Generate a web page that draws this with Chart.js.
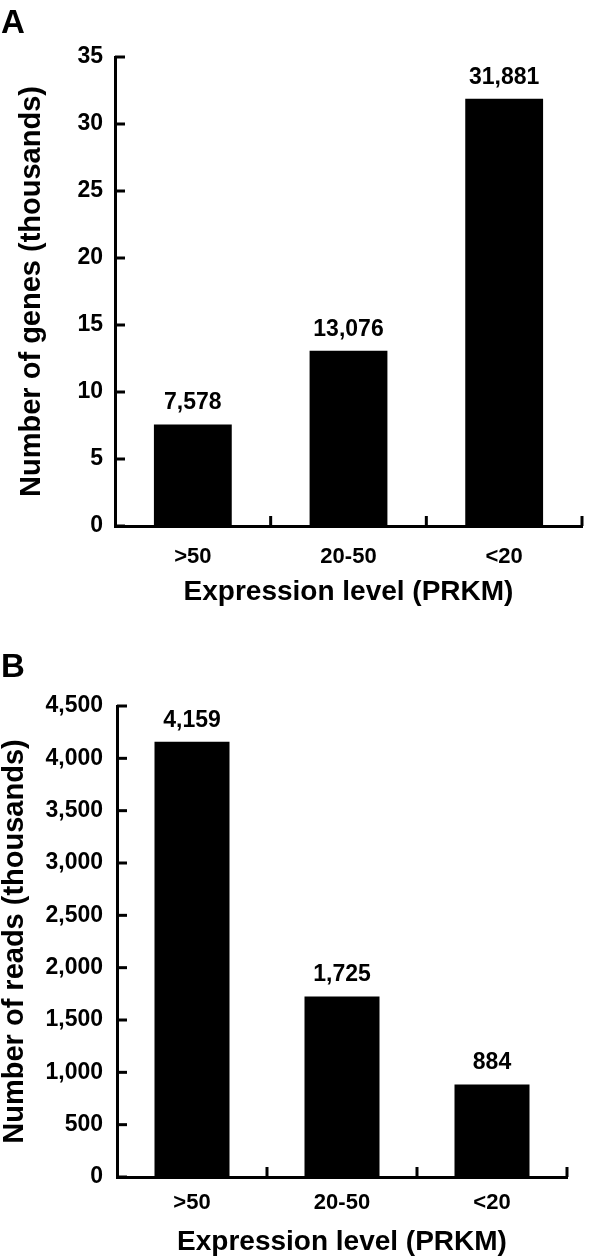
<!DOCTYPE html>
<html>
<head>
<meta charset="utf-8">
<script src="https://cdn.jsdelivr.net/npm/chart.js@4.4.1/dist/chart.umd.min.js"></script>
<style>
  html, body { margin: 0; padding: 0; background: #fff; }
  .panel { position: absolute; left: 0; width: 600px; }
  #panelA { top: 0; height: 620px; }
  #panelB { top: 620px; height: 638px; }
</style>
</head>
<body>
<div class="panel" id="panelA"><canvas id="chartA" width="600" height="620"></canvas></div>
<div class="panel" id="panelB"><canvas id="chartB" width="600" height="638"></canvas></div>
<script>
// Data
const categories = ['>50', '20-50', '<20'];
const geneCounts = [7578, 13076, 31881];   // genes
const readCounts = [4159, 1725, 884];      // reads, thousands
const geneAxis = { max: 35, step: 5 };
const readAxis = { max: 4500, step: 500 };

const FONT = '"Liberation Sans", Arial, Helvetica, sans-serif';

// Inward tick marks, bar value labels and panel letter
const panelDecor = {
  id: 'panelDecor',
  afterDraw(chart, args, o) {
    const ctx = chart.ctx;
    const xs = chart.scales.x;
    const ys = chart.scales.y;
    ctx.save();
    ctx.strokeStyle = '#000';
    ctx.lineWidth = 3;

    ys.ticks.forEach(t => {
      const py = ys.getPixelForValue(t.value);
      ctx.beginPath();
      ctx.moveTo(ys.right, py);
      ctx.lineTo(ys.right + 10, py);
      ctx.stroke();
    });

    categories.forEach((c, i) => {
      const px = xs.getPixelForValue(i + 0.5);
      ctx.beginPath();
      ctx.moveTo(px, xs.top);
      ctx.lineTo(px, xs.top - 10);
      ctx.stroke();
    });

    ctx.fillStyle = '#000';
    ctx.font = 'bold 23px ' + FONT;
    ctx.textAlign = 'center';
    ctx.textBaseline = 'alphabetic';
    chart.getDatasetMeta(0).data.forEach((bar, i) => {
      ctx.fillText(o.labels[i], bar.x, bar.y - 15);
    });

    ctx.textAlign = 'left';
    ctx.font = 'bold 33px ' + FONT;
    ctx.fillText(o.letter, 1, o.letterY);
    ctx.restore();
  }
};

function fmt(v) {
  return Number(v).toLocaleString('en-US');
}

function createPanel(canvasId, p) {
  const ctx = document.getElementById(canvasId).getContext('2d');
  return new Chart(ctx, {
    type: 'bar',
    data: {
      labels: categories,
      datasets: [{
        data: p.values,
        backgroundColor: '#000',
        borderWidth: 0,
        barPercentage: 0.5,
        categoryPercentage: 1
      }]
    },
    options: {
      responsive: false,
      animation: false,
      layout: { padding: { top: p.top, right: p.right, bottom: 0, left: 0 } },
      plugins: {
        legend: { display: false },
        tooltip: { enabled: false },
        panelDecor: { labels: p.valueLabels, letter: p.letter, letterY: p.letterY }
      },
      scales: {
        x: {
          grid: { display: false, drawTicks: false },
          border: { display: true, color: '#000', width: 3 },
          ticks: {
            color: '#000',
            padding: p.xTickPad,
            font: { family: FONT, size: 22, weight: 'bold' }
          },
          title: {
            display: true,
            text: 'Expression level (PRKM)',
            color: '#000',
            font: { family: FONT, size: 28, weight: 'bold', lineHeight: 1 },
            padding: { top: 0, bottom: p.xTitlePad }
          },
          afterFit: (scale) => { scale.height = p.xHeight; }
        },
        y: {
          min: 0,
          max: p.max,
          grid: { display: false, drawTicks: false },
          border: { display: true, color: '#000', width: 3 },
          ticks: {
            stepSize: p.step,
            color: '#000',
            padding: p.yTickPad,
            font: { family: FONT, size: 23, weight: 'bold' },
            callback: (v) => fmt(v)
          },
          title: {
            display: true,
            text: p.yTitle,
            color: '#000',
            font: { family: FONT, size: 29, weight: 'bold', lineHeight: 1 },
            padding: { top: p.yTitlePad, bottom: 0 }
          },
          afterFit: (scale) => { scale.width = p.yWidth; }
        }
      }
    },
    plugins: [panelDecor]
  });
}

createPanel('chartA', {
  values: geneCounts.map(v => v / 1000),
  valueLabels: geneCounts.map(fmt),
  max: geneAxis.max,
  step: geneAxis.step,
  yTitle: 'Number of genes (thousands)',
  letter: 'A',
  letterY: 33,
  top: 57,
  right: 18,
  yWidth: 115,
  xHeight: 94,
  yTickPad: 12,
  xTickPad: 18,
  xTitlePad: 14,
  yTitlePad: 17
});

createPanel('chartB', {
  values: readCounts,
  valueLabels: readCounts.map(fmt),
  max: readAxis.max,
  step: readAxis.step,
  yTitle: 'Number of reads (thousands)',
  letter: 'B',
  letterY: 57,
  top: 86,
  right: 33,
  yWidth: 117,
  xHeight: 81,
  yTickPad: 14,
  xTickPad: 13,
  xTitlePad: 2,
  yTitlePad: 0
});
</script>
</body>
</html>
